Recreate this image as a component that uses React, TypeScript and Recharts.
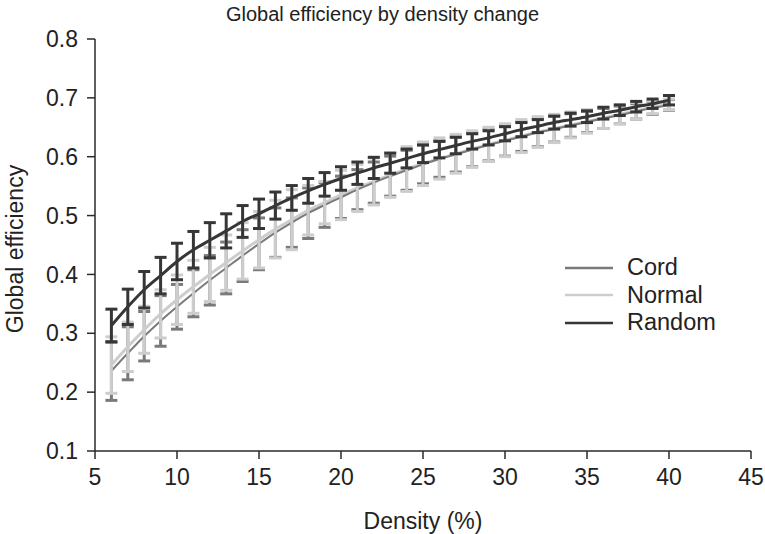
import React from "react";
import {
  ComposedChart,
  Line,
  ErrorBar,
  XAxis,
  YAxis,
  Legend,
  Label,
} from "recharts";

const FONT = '"Liberation Sans", Arial, Helvetica, sans-serif';

const density = [
  6, 7, 8, 9, 10, 11, 12, 13, 14, 15, 16, 17, 18, 19, 20, 21, 22, 23, 24, 25,
  26, 27, 28, 29, 30, 31, 32, 33, 34, 35, 36, 37, 38, 39, 40,
];

const randomMean = [
  0.313, 0.345, 0.374, 0.398, 0.422, 0.442, 0.458, 0.474, 0.49, 0.503, 0.517,
  0.53, 0.542, 0.553, 0.563, 0.572, 0.581, 0.589, 0.597, 0.605, 0.612, 0.619,
  0.626, 0.632, 0.639, 0.646, 0.652, 0.658, 0.663, 0.668, 0.674, 0.679, 0.685,
  0.69, 0.696,
];
const randomErr = [
  0.028, 0.03, 0.031, 0.031, 0.031, 0.031, 0.03, 0.029, 0.027, 0.025, 0.023,
  0.021, 0.021, 0.02, 0.02, 0.019, 0.018, 0.017, 0.016, 0.015, 0.014, 0.014,
  0.013, 0.012, 0.012, 0.012, 0.011, 0.011, 0.011, 0.01, 0.01, 0.009, 0.009,
  0.008, 0.008,
];

const normalMean = [
  0.246, 0.277, 0.306, 0.333, 0.357, 0.379, 0.4, 0.42, 0.44, 0.459, 0.477,
  0.493, 0.509, 0.522, 0.535, 0.547, 0.558, 0.569, 0.579, 0.588, 0.597, 0.605,
  0.613, 0.621, 0.628, 0.635, 0.642, 0.648, 0.654, 0.66, 0.666, 0.672, 0.678,
  0.684, 0.689,
];
const normalErr = [
  0.048, 0.042, 0.04, 0.041, 0.042, 0.045, 0.046, 0.047, 0.048, 0.048, 0.049,
  0.051, 0.042, 0.036, 0.042, 0.04, 0.04, 0.038, 0.038, 0.037, 0.035, 0.033,
  0.031, 0.029, 0.028, 0.028, 0.026, 0.024, 0.022, 0.02, 0.018, 0.016, 0.014,
  0.011, 0.009,
];

const cordMean = [
  0.236, 0.266, 0.295, 0.321, 0.345, 0.368, 0.39, 0.411, 0.432, 0.452, 0.471,
  0.488, 0.504, 0.518, 0.531, 0.544, 0.556, 0.567, 0.577, 0.587, 0.596, 0.604,
  0.612, 0.62, 0.627, 0.634, 0.641, 0.647, 0.653, 0.659, 0.665, 0.671, 0.677,
  0.683, 0.688,
];
const cordErr = [
  0.05, 0.045, 0.042, 0.043, 0.038, 0.04, 0.042, 0.044, 0.044, 0.044, 0.042,
  0.042, 0.043, 0.038, 0.036, 0.034, 0.035, 0.034, 0.034, 0.033, 0.031, 0.03,
  0.029, 0.027, 0.026, 0.025, 0.024, 0.022, 0.02, 0.018, 0.017, 0.015, 0.013,
  0.011, 0.009,
];

const xTicks = [5, 10, 15, 20, 25, 30, 35, 40, 45];
const yTicks = [0.1, 0.2, 0.3, 0.4, 0.5, 0.6, 0.7, 0.8];

const seriesNames = ["Cord", "Normal", "Random"];
const seriesColors = ["#7a7a7a", "#cdcdcd", "#363636"];

const rows = density.map((d, i) => ({
  density: d,
  random: randomMean[i],
  randomErr: randomErr[i],
  normal: normalMean[i],
  normalErr: normalErr[i],
  cord: cordMean[i],
  cordErr: cordErr[i],
}));

const renderLegend = () => (
  <div style={{ fontFamily: FONT, fontSize: 23.5, color: "#222" }}>
    {seriesNames.map((name, i) => (
      <div
        key={name}
        style={{ display: "flex", alignItems: "center", height: 27.5 }}
      >
        <svg width={48} height={4} style={{ marginRight: 14 }}>
          <line
            x1={0}
            y1={2}
            x2={48}
            y2={2}
            stroke={seriesColors[i]}
            strokeWidth={2.5}
          />
        </svg>
        <span>{name}</span>
      </div>
    ))}
  </div>
);

const tickStyle = { fontSize: 23, fill: "#222", fontFamily: FONT };

export default function App() {
  return (
    <div style={{ position: "absolute", left: 0, top: 0, width: 765, height: 534 }}>
      <div
        style={{
          position: "absolute",
          left: 0,
          top: 3,
          width: 765,
          textAlign: "center",
          fontFamily: FONT,
          fontSize: 20,
          lineHeight: "22px",
          color: "#222",
        }}
      >
        Global efficiency by density change
      </div>
      <ComposedChart
        width={765}
        height={534}
        data={rows}
        margin={{ top: 39, right: 14, left: 0, bottom: 0 }}
        style={{ fontFamily: FONT }}
      >
        <XAxis
          dataKey="density"
          type="number"
          domain={[5, 45]}
          ticks={xTicks}
          height={83}
          tick={tickStyle}
          tickSize={8}
          tickMargin={10}
          stroke="#2a2a2a"
          strokeWidth={1.5}
          interval={0}
        >
          <Label
            content={({ viewBox }: any) => (
              <text
                x={viewBox.x + viewBox.width / 2}
                y={521}
                textAnchor="middle"
                dominantBaseline="central"
                fontSize={23}
                fill="#222"
                fontFamily={FONT}
              >
                Density (%)
              </text>
            )}
          />
        </XAxis>
        <YAxis
          type="number"
          domain={[0.1, 0.8]}
          ticks={yTicks}
          width={95}
          tick={tickStyle}
          tickSize={8}
          tickMargin={9}
          stroke="#2a2a2a"
          strokeWidth={1.5}
          interval={0}
          tickFormatter={(v: number) => v.toFixed(1)}
          allowDataOverflow
        >
          <Label
            content={({ viewBox }: any) => {
              const cy = viewBox.y + viewBox.height / 2 + 4;
              return (
                <text
                  x={15}
                  y={cy}
                  transform={`rotate(-90 15 ${cy})`}
                  textAnchor="middle"
                  dominantBaseline="central"
                  fontSize={23}
                  fill="#222"
                  fontFamily={FONT}
                >
                  Global efficiency
                </text>
              );
            }}
          />
        </YAxis>
        <Legend
          layout="horizontal"
          align="center"
          verticalAlign="middle"
          content={renderLegend}
          wrapperStyle={{ left: 565, top: 254, width: 170, height: 84 }}
        />
        {/* Cord error bars underneath everything grey */}
        <Line
          dataKey="cord"
          stroke="none"
          dot={false}
          legendType="none"
          isAnimationActive={false}
        >
          <ErrorBar
            dataKey="cordErr"
            width={6}
            strokeWidth={3}
            stroke={seriesColors[0]}
            direction="y"
            isAnimationActive={false}
          />
        </Line>
        <Line
          type="monotone"
          dataKey="normal"
          name="Normal"
          stroke={seriesColors[1]}
          strokeWidth={3}
          dot={false}
          isAnimationActive={false}
        />
        <Line
          type="monotone"
          dataKey="cord"
          name="Cord"
          stroke={seriesColors[0]}
          strokeWidth={2}
          dot={false}
          isAnimationActive={false}
        />
        {/* Normal error bars drawn over the Cord line */}
        <Line
          dataKey="normal"
          stroke="none"
          dot={false}
          legendType="none"
          isAnimationActive={false}
        >
          <ErrorBar
            dataKey="normalErr"
            width={6}
            strokeWidth={3}
            stroke={seriesColors[1]}
            direction="y"
            isAnimationActive={false}
          />
        </Line>
        <Line
          type="monotone"
          dataKey="random"
          name="Random"
          stroke={seriesColors[2]}
          strokeWidth={3}
          dot={false}
          isAnimationActive={false}
        >
          <ErrorBar
            dataKey="randomErr"
            width={6}
            strokeWidth={3}
            stroke={seriesColors[2]}
            direction="y"
            isAnimationActive={false}
          />
        </Line>
      </ComposedChart>
    </div>
  );
}
